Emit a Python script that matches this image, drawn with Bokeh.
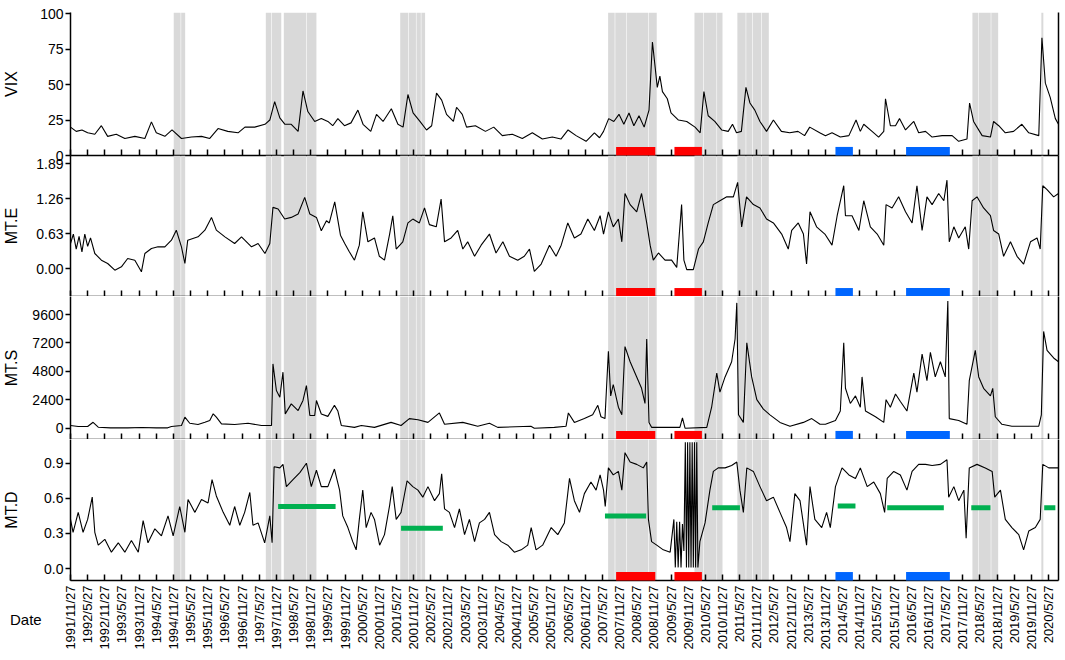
import math
from bokeh.plotting import figure
from bokeh.layouts import column
from bokeh.models import Range1d, FixedTicker, LinearAxis, Div
from bokeh.embed import file_html
from bokeh.resources import INLINE

# ---------------- data (x = months since 1991/11/27) ----------------
TICK_LABELS = ["1991/11/27", "1992/5/27", "1992/11/27", "1993/5/27", "1993/11/27", "1994/5/27",
               "1994/11/27", "1995/5/27", "1995/11/27", "1996/5/27", "1996/11/27", "1997/5/27",
               "1997/11/27", "1998/5/27", "1998/11/27", "1999/5/27", "1999/11/27", "2000/5/27",
               "2000/11/27", "2001/5/27", "2001/11/27", "2002/5/27", "2002/11/27", "2003/5/27",
               "2003/11/27", "2004/5/27", "2004/11/27", "2005/5/27", "2005/11/27", "2006/5/27",
               "2006/11/27", "2007/5/27", "2007/11/27", "2008/5/27", "2008/11/27", "2009/5/27",
               "2009/11/27", "2010/5/27", "2010/11/27", "2011/5/27", "2011/11/27", "2012/5/27",
               "2012/11/27", "2013/5/27", "2013/11/27", "2014/5/27", "2014/11/27", "2015/5/27",
               "2015/11/27", "2016/5/27", "2016/11/27", "2017/5/27", "2017/11/27", "2018/5/27",
               "2018/11/27", "2019/5/27", "2019/11/27", "2020/5/27"]
TICK_MONTHS = [6 * i for i in range(len(TICK_LABELS))]

VIX = [(0,20),(2,17),(4,18),(6,16),(8.5,15),(10.8,21),(13,13.5),(16,15),(19,12),(22.5,13.5),(26,12),(28.3,23.7),(30,16),(33,13.5),(35.5,18),(38.8,12),(42.3,13),(45.8,13.5),(48.7,12),(51.6,19),(55,17),(58.6,16),(61,20),(64.4,20),(68,22),(69.7,25),(71.4,38),(73.2,26.5),(75,22),(77.2,22),(79.6,17),(81.3,45.5),(83,31),(85.4,24),(87.7,26),(90,24),(91.7,21),(93.5,26),(95.8,21),(98.1,23),(100.5,32),(102.3,22),(105,17),(107,29),(109.3,24),(112.2,33),(114.5,22),(116.3,20),(118,43),(119.8,30),(122.2,24),(124.5,18),(126.3,21),(128,44),(129.8,39),(131.5,29),(133.9,24),(135,34),(137,29),(138.5,20),(141.6,21),(145.1,17),(148,20),(151,14),(154.5,15),(158,12),(161.5,16),(165,11.6),(168.5,13),(171.5,11.6),(174,18),(176.8,14),(180.3,10),(183.2,16),(185,12.5),(186.4,17),(188.2,26),(190,24),(191.8,29),(193.5,22),(195.3,30),(197,21),(198.8,28),(200.6,20),(202.3,32),(203.5,80),(204.3,65),(205.2,48),(206.1,56),(207,45),(208.7,40),(210,30),(212.6,25),(215.5,24),(218.4,20),(220.2,16),(221.5,45),(223,28),(225.3,24),(227.7,18),(230,17),(231.5,22),(232.9,16),(234.6,17),(236.2,48),(237.6,37),(239.3,32),(241.1,24),(243.4,17),(245.8,25),(248.6,17),(251.5,16),(254.4,17),(256.7,14),(258.5,20),(262,16),(264,14),(266.3,16),(269.2,13),(272.2,14),(274.7,25),(276.2,17),(277.4,22),(280.3,17),(282.6,13),(284.4,17),(285,40),(286.7,21),(288.5,21),(289.9,26),(292,18),(294.9,24),(296.6,16),(299,17),(301.3,13),(304.8,14),(308.3,14),(310.6,10),(313.5,11.6),(314.4,37),(315.8,24),(318.8,14),(321.7,13),(322.8,24),(324.6,21),(326.9,16),(329.8,17),(332.7,22),(335.1,16),(338.6,14),(339.7,83),(340.9,51),(342.6,41),(344.4,26),(345.5,22)]

MTE = [(0,0.45),(1,0.62),(2,0.35),(3,0.58),(4,0.30),(5,0.62),(6,0.40),(7,0.55),(8.5,0.27),(10.8,0.15),(13,0.09),(15.5,-0.03),(17.8,0.03),(20,0.18),(22.5,0.15),(24.8,-0.06),(26,0.27),(28.3,0.36),(30.6,0.39),(33,0.39),(35.3,0.51),(37,0.69),(38.8,0.39),(40,0.09),(41,0.51),(44.6,0.57),(47,0.69),(49.3,0.92),(51,0.69),(54,0.57),(57.4,0.45),(59.8,0.57),(63.3,0.39),(65.6,0.45),(68,0.27),(69.7,0.45),(70.8,1.10),(72.6,1.07),(74.9,0.89),(77.2,0.92),(79.6,0.98),(81.9,1.28),(83.7,0.98),(86,0.92),(87.7,0.68),(89.5,0.86),(90.5,0.82),(92.4,1.20),(94.4,0.60),(95.9,0.45),(97.5,0.30),(99.3,0.15),(101,0.42),(102.2,1.02),(104,0.48),(106.3,0.55),(108,0.22),(109.8,0.15),(111.6,0.62),(112.7,0.95),(113.9,0.35),(116.2,0.48),(118,0.82),(119.7,0.89),(122,0.82),(123.8,1.09),(125.5,0.79),(127.9,0.75),(129.6,1.25),(130.8,0.48),(133.1,0.55),(135.4,0.685),(137.2,0.35),(138.9,0.48),(141.3,0.22),(143.6,0.42),(146.5,0.62),(148.8,0.28),(151.2,0.48),(153.5,0.22),(156.4,0.15),(158.7,0.22),(160.5,0.35),(162.2,-0.05),(164.6,0.08),(167.5,0.42),(169.8,0.22),(171.6,0.42),(173.9,0.82),(176.2,0.55),(178.5,0.62),(180.9,0.89),(183.2,0.685),(185.2,0.95),(186.4,0.62),(188.1,1.02),(189.8,0.75),(191.6,0.89),(192.8,0.48),(193.9,1.35),(195.7,1.15),(198,1.02),(199.7,1.35),(201.5,0.82),(202.7,0.42),(203.8,0.15),(205.6,0.28),(207.9,0.15),(210.2,0.15),(212,0.02),(213.7,1.15),(214.5,0.15),(215.5,-0.02),(217.8,-0.02),(219.6,0.35),(221.3,0.48),(223,0.82),(224.8,1.15),(227.1,1.22),(229.5,1.29),(231.8,1.29),(233.3,1.55),(234.7,0.75),(236.4,1.29),(238.8,1.15),(241.1,1.09),(243.4,0.89),(245.8,0.82),(248.7,0.62),(251,0.35),(252.2,0.685),(254.5,0.82),(256.3,0.62),(257.4,0.08),(258.6,1.02),(260.9,0.75),(263.8,0.62),(266.3,0.42),(268.1,0.95),(270.4,1.49),(271,0.95),(273.3,0.95),(275.7,0.685),(277.4,1.22),(279.7,0.75),(282.1,0.62),(284.4,0.42),(285.2,1.15),(287.3,1.09),(289.6,1.29),(292,1.02),(294.3,0.82),(296,1.49),(297.8,0.685),(299.5,1.29),(301.3,1.15),(303.6,1.35),(305.4,1.22),(306.5,1.59),(307.3,0.48),(308.9,0.75),(310.6,0.55),(312.9,0.75),(314.1,0.35),(315.3,1.22),(317,1.29),(319.3,1.09),(321.7,0.95),(322.8,0.685),(324.6,0.62),(326.3,0.22),(328.7,0.48),(331,0.22),(333.3,0.08),(335.7,0.48),(338,0.55),(339.1,0.35),(340,1.49),(341.5,1.42),(343.8,1.29),(345.5,1.35)]

MTS = [(0,225),(2.7,140),(6,140),(7.9,500),(9.7,85),(14,30),(20,30),(25,60),(30,30),(34,30),(35.3,140),(38.8,225),(40,930),(41.7,420),(44.6,310),(47,500),(48.7,650),(49.9,1210),(51,930),(52.8,365),(57.4,310),(62.1,420),(66.8,225),(70.3,225),(70.8,5430),(72,3180),(73.2,2620),(74.3,4730),(75.1,1210),(77.2,2055),(79.6,1490),(81.3,2340),(82.5,3600),(83.7,1070),(85.4,1070),(86,2340),(87.7,1200),(90,1000),(92.3,1930),(93.5,1450),(94.7,230),(99.3,70),(101.7,230),(106.3,70),(112.1,490),(115.6,230),(118.5,810),(121.5,710),(125,490),(129,1290),(130.8,330),(137.2,490),(142.4,170),(146.5,420),(149.4,70),(161,170),(162.2,0),(169.2,70),(173.3,170),(174.1,1290),(176.2,490),(179.7,810),(182.6,1130),(184.4,1930),(185.5,967),(186.9,810),(188.1,6500),(188.9,2730),(189.8,3690),(191.6,1770),(192.8,1130),(193.9,6890),(195.7,5610),(198,4330),(199.7,3370),(200.9,2090),(201.5,7530),(202.3,490),(203.2,70),(213.1,70),(214,870),(214.9,0),(222.5,70),(224.2,1770),(226,4650),(227.1,3050),(228.9,4330),(231.2,5610),(232.4,7530),(233,10580),(233.6,1130),(235.3,490),(236.5,7210),(238.2,4330),(240,2410),(242.3,1610),(244.6,1130),(248.1,490),(251.6,170),(256.3,490),(259.2,810),(262.1,330),(264,330),(267.5,650),(269.2,1450),(270.4,7210),(271,3370),(272.7,2090),(274.5,2730),(276.2,1770),(276.8,4330),(278,1450),(281.5,967),(284.4,490),(285.2,2410),(286.7,1770),(288.5,2890),(290.2,2250),(292.5,1450),(294.9,4650),(296,3050),(297.8,6250),(299.5,4010),(300.7,6410),(302.4,4330),(304.2,5610),(305.9,4330),(306.8,10740),(307.3,810),(310.6,650),(313.5,330),(314.3,4010),(316.4,6570),(317.6,4330),(319.3,3370),(321.7,2730),(322.5,3370),(323.4,967),(325.7,330),(329.2,170),(338.6,170),(339.5,1130),(340.3,8170),(341.5,6570),(343.8,5930),(345.5,5610)]

MTD = [(0,0.42),(0.9,0.31),(2.7,0.48),(4.4,0.31),(6,0.42),(7.6,0.61),(8.5,0.31),(9.7,0.20),(12,0.25),(14.3,0.14),(16.7,0.22),(19,0.14),(21.3,0.24),(23.7,0.14),(25.4,0.41),(27.1,0.22),(29.5,0.34),(31.8,0.28),(34.1,0.45),(35.9,0.28),(38.2,0.53),(40,0.31),(41.1,0.59),(43.5,0.48),(45.8,0.59),(48.1,0.56),(49.5,0.76),(51,0.62),(53.4,0.48),(55.7,0.37),(57.4,0.53),(59.2,0.37),(60.9,0.48),(62.7,0.65),(63.8,0.37),(65.6,0.39),(67.9,0.22),(69.7,0.45),(70.5,0.22),(71.2,0.87),(73.2,0.86),(74.3,0.89),(75.5,0.70),(77.8,0.76),(80.2,0.82),(82.5,0.90),(84.2,0.70),(86,0.84),(87.7,0.70),(90,0.70),(92.3,0.85),(94.1,0.67),(95.2,0.45),(97,0.35),(98.7,0.23),(99.9,0.16),(101,0.42),(102.2,0.67),(103.4,0.35),(105.1,0.48),(106.3,0.42),(108.1,0.20),(109.8,0.29),(111.6,0.54),(112.5,0.70),(113.9,0.42),(115.6,0.48),(117.7,0.75),(119.7,0.70),(121.5,0.67),(123.2,0.61),(125,0.70),(127.3,0.58),(129,0.64),(129.8,0.81),(130.8,0.51),(132.5,0.48),(134.3,0.35),(136,0.51),(137.8,0.29),(139.5,0.42),(141.3,0.23),(143,0.39),(144.8,0.42),(146.5,0.48),(148.3,0.29),(150.6,0.23),(152.9,0.20),(155.2,0.14),(157.6,0.16),(159.9,0.20),(161.1,0.35),(162.8,0.16),(165.1,0.20),(168.1,0.35),(170.4,0.29),(172.7,0.39),(174.5,0.77),(176.2,0.58),(178,0.48),(179.7,0.64),(182,0.74),(183.8,0.67),(185.2,0.80),(186.4,0.67),(187,0.53),(188.1,0.86),(189.8,0.80),(191.6,0.83),(192.8,0.67),(193.9,0.99),(195.7,0.91),(198,0.89),(200.3,0.86),(201.5,0.91),(202.1,0.42),(203.2,0.23),(205,0.20),(207.3,0.16),(209.7,0.14),(211,0.42),(211.5,0.01),(212,0.40),(212.5,0.01),(213,0.40),(213.5,0.01),(214,0.38),(214.5,0.15),(215,1.08),(215.4,0.01),(215.8,1.08),(216.2,0.01),(216.6,1.08),(217,0.01),(217.4,1.08),(217.8,0.01),(218.2,1.08),(218.6,0.01),(219,1.08),(219.4,0.01),(220.1,0.23),(221.9,0.39),(223.6,0.67),(224.8,0.83),(226.5,0.86),(228.9,0.86),(231.2,0.88),(233,0.91),(234.1,0.67),(235.3,0.48),(236.5,0.86),(238.8,0.83),(241.1,0.70),(243.4,0.58),(245.8,0.61),(248.1,0.48),(250.4,0.35),(251.6,0.23),(253.3,0.64),(255.1,0.58),(257.4,0.20),(258.6,0.70),(260.3,0.42),(262.7,0.35),(264.4,0.48),(265.7,0.35),(267.5,0.70),(269.8,0.86),(272.2,0.80),(274.5,0.77),(276.2,0.86),(278.6,0.70),(280.9,0.74),(283.2,0.64),(284.7,0.48),(285.6,0.77),(287.9,0.83),(290.2,0.80),(292.5,0.67),(294.3,0.83),(296.6,0.89),(299,0.89),(301.3,0.88),(304.2,0.89),(306.5,0.93),(307.1,0.61),(308.9,0.70),(310.6,0.58),(312.4,0.67),(313.2,0.26),(314.3,0.86),(317,0.89),(319.9,0.86),(322.3,0.83),(323.2,0.61),(325.2,0.67),(326.9,0.42),(329.2,0.35),(331.6,0.29),(333.3,0.16),(335.1,0.32),(337.4,0.35),(339.1,0.42),(340,0.89),(342.1,0.86),(345.5,0.86)]

# shaded periods (start month, end month)
BANDS = [(36.1,38.5),(38.7,40.1),
         (68.3,70.2),(70.4,73.7),(74.6,82.4),(82.6,86.0),
         (115.3,118.1),(118.3,120.8),(121.0,122.5),(122.7,124.0),
         (188.0,190.3),(190.5,194.4),(194.6,202.0),(202.2,205.0),
         (218.2,221.3),(221.5,225.9),(226.1,228.0),
         (233.2,236.1),(236.3,238.4),(238.6,241.5),(241.7,244.2),
         (315.4,317.5),(317.7,321.8),(322.0,324.4),
         (339.5,340.2)]
RED_PERIODS = [(190.8,204.5),(211.2,220.8)]
BLUE_PERIODS = [(267.5,273.6),(292.2,307.5)]
GREEN_MEANS = [(72.6,92.7,0.53),(115.6,130.2,0.345),(186.9,201.3,0.45),(224.4,234.1,0.52),
               (268.3,274.5,0.535),(285.6,305.4,0.52),(315.0,321.7,0.52),(340.5,344.4,0.52)]

VIX_TICKS = [0, 25, 50, 75, 100]
VIX_TLAB = ["0", "25", "50", "75", "100"]
MTE_TICKS = [0.0, 0.63, 1.26, 1.89]
MTE_TLAB = ["0.00", "0.63", "1.26", "1.89"]
MTS_TICKS = [0, 2400, 4800, 7200, 9600]
MTS_TLAB = ["0", "2400", "4800", "7200", "9600"]
MTD_TICKS = [0.0, 0.3, 0.6, 0.9]
MTD_TLAB = ["0.0", "0.3", "0.6", "0.9"]

FONT = "Liberation Sans"
GRAY = "#d9d9d9"
xr = Range1d(0, 345.5)


def panel(name, stand, series, yrange, yticks, ylabels, height, top, bottom, last=False):
    ylo, yhi = yrange
    p = figure(width=1060, height=height, x_range=xr, y_range=Range1d(ylo, yhi),
               output_backend="svg", toolbar_location=None,
               min_border_left=69, min_border_right=2, min_border_top=top, min_border_bottom=bottom)
    p.grid.visible = False
    p.outline_line_color = None
    p.quad(left=[b[0] for b in BANDS], right=[b[1] for b in BANDS], bottom=ylo, top=yhi,
           fill_color=GRAY, line_color=None)
    p.line([s[0] for s in series], [s[1] for s in series], line_color="black", line_width=1.1)
    bh = ylo + 0.06 * (yhi - ylo)
    p.quad(left=[r[0] for r in RED_PERIODS], right=[r[1] for r in RED_PERIODS], bottom=ylo, top=bh,
           fill_color="#ff0000", line_color=None, level="annotation")
    p.quad(left=[r[0] for r in BLUE_PERIODS], right=[r[1] for r in BLUE_PERIODS], bottom=ylo, top=bh,
           fill_color="#0066ff", line_color=None, level="annotation")

    xa = p.xaxis[0]
    xa.axis_line_width = 1.5
    xa.axis_line_color = "black"
    if last:
        xa.ticker = FixedTicker(ticks=TICK_MONTHS)
        xa.major_tick_in = 6
        xa.major_tick_out = 0
        xa.minor_tick_in = 0
        xa.minor_tick_out = 0
        xa.major_tick_line_width = 1.5
        xa.major_label_overrides = {t: l for t, l in zip(TICK_MONTHS, TICK_LABELS)}
        xa.major_label_orientation = math.pi / 2
        xa.major_label_text_font = FONT
        xa.major_label_text_font_size = "13px"
        xa.major_label_text_color = "black"
        xa.major_label_standoff = 5
    else:
        # ticks only (as minor ticks, so no labels are produced)
        xa.ticker = FixedTicker(ticks=[], minor_ticks=TICK_MONTHS)
        xa.major_tick_in = 0
        xa.major_tick_out = 0
        xa.minor_tick_in = 6
        xa.minor_tick_out = 0
        xa.minor_tick_line_width = 1.5
        xa.minor_tick_line_color = "black"
        xa.major_label_standoff = 0

    ya = p.yaxis[0]
    ya.ticker = FixedTicker(ticks=yticks)
    ya.major_label_overrides = {t: l for t, l in zip(yticks, ylabels)}
    ya.major_tick_out = 5
    ya.major_tick_in = 0
    ya.minor_tick_in = 0
    ya.minor_tick_out = 0
    ya.axis_line_width = 1.5
    ya.major_tick_line_width = 1.5
    ya.major_label_text_font = FONT
    ya.major_label_text_font_size = "14px"
    ya.major_label_text_color = "black"
    ya.major_label_standoff = 2
    ya.axis_label = name
    ya.axis_label_text_font = FONT
    ya.axis_label_text_font_size = "16px"
    ya.axis_label_text_font_style = "normal"
    ya.axis_label_text_color = "black"
    ya.axis_label_standoff = stand

    ra = LinearAxis(ticker=FixedTicker(ticks=[]), major_tick_in=0, major_tick_out=0,
                    minor_tick_in=0, minor_tick_out=0, major_label_standoff=0,
                    axis_line_width=1.5)
    p.add_layout(ra, "right")
    return p


p1 = panel("VIX", 17, VIX, (0, 100.8), VIX_TICKS, VIX_TLAB, 163, 12, 8)
p2 = panel("MT.E", 13, MTE, (-0.504, 2.034), MTE_TICKS, MTE_TLAB, 141, 0, 0)
p3 = panel("MT.S", 9, MTS, (-954, 11120), MTS_TICKS, MTS_TLAB, 143, 0, 0)
p4 = panel("MT.D", 21, MTD, (-0.102, 1.1025), MTD_TICKS, MTD_TLAB, 213, 0, 70, last=True)

# let the VIX panel's bottom tick label ("0") show through the MT.E panel's top edge
p2.margin = (-8, 0, 0, 0)
p2.border_fill_color = None
p2.background_fill_color = None

p4.segment(x0=[g[0] for g in GREEN_MEANS], y0=[g[2] for g in GREEN_MEANS],
           x1=[g[1] for g in GREEN_MEANS], y1=[g[2] for g in GREEN_MEANS],
           line_color="#00b050", line_width=5)

date_div = Div(text="Date", width=60, height=20, margin=(-43, 0, 0, 10),
               styles={"font-family": "Liberation Sans", "font-size": "15px", "color": "black"})

layout = column(p1, p2, p3, p4, date_div, spacing=0)
open("out.html", "w").write(file_html(layout, INLINE))
